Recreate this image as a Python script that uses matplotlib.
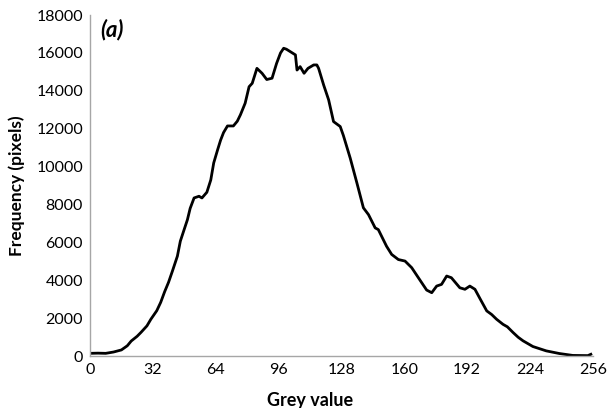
import matplotlib
matplotlib.use("Agg")
import matplotlib.pyplot as plt

grey_value = [0, 4, 8, 12, 16, 19, 21, 24, 26, 29, 31, 34, 36, 38, 40, 42, 44.5, 46, 48, 49.6,
              51, 53, 55.5, 57, 59.5, 61.5, 63, 65, 66.5, 68, 70, 73, 75, 76.6, 79, 81, 82.6,
              85, 87.6, 90, 92.7, 95, 97, 98.6, 100, 102, 104.6, 105.4, 107, 109, 111, 113.9,
              115.5, 116.4, 119, 121.5, 124, 127.4, 129, 132.5, 135.9, 139.2, 141.8, 145.2,
              146.8, 151, 153.6, 157, 160.4, 163.8, 167.2, 171.4, 174, 176.5, 179, 181.6, 184,
              188.3, 190.9, 193.4, 196, 198.5, 202, 204.5, 207, 210.3, 212.5, 215.4, 218,
              220.5, 225.5, 232.3, 239, 245.8, 253.5, 255]
frequency = [150, 160, 150, 220, 330, 550, 800, 1050, 1260, 1600, 1950, 2400, 2840, 3400, 3900,
             4500, 5280, 6070, 6700, 7200, 7800, 8350, 8440, 8350, 8650, 9300, 10200, 10900,
             11400, 11800, 12150, 12150, 12400, 12740, 13350, 14220, 14400, 15190, 14930, 14600,
             14670, 15450, 16000, 16250, 16200, 16070, 15900, 15100, 15280, 14930, 15190, 15370,
             15370, 15190, 14300, 13530, 12380, 12120, 11650, 10450, 9140, 7830, 7470, 6770,
             6680, 5800, 5370, 5100, 5020, 4670, 4140, 3490, 3350, 3700, 3790, 4230, 4140, 3610,
             3530, 3700, 3530, 3050, 2390, 2200, 1950, 1680, 1550, 1250, 1000,
             810, 510, 280, 140, 40, 30, 100]
x_ticks = [0, 32, 64, 96, 128, 160, 192, 224, 256]
y_ticks = list(range(0, 18001, 2000))

plt.rcParams['font.family'] = ['Lato', 'DejaVu Sans']

fig = plt.figure(figsize=(6.08, 4.08), dpi=100)
ax = fig.add_axes([0.148, 0.127, 0.827, 0.836])
ax.plot(grey_value, frequency, color='black', lw=2.0, solid_joinstyle='round')
ax.set_xlim(0, 256)
ax.set_ylim(0, 18000)
ax.set_xticks(x_ticks)
ax.set_yticks(y_ticks)
ax.tick_params(length=0, labelsize=11.5, pad=5)
for s in ['top', 'right']:
    ax.spines[s].set_visible(False)
for s in ['left', 'bottom']:
    ax.spines[s].set_color('#a6a6a6')
    ax.spines[s].set_linewidth(1.0)
ax.set_ylabel('Frequency (pixels)', fontsize=12.5, fontweight='bold', labelpad=8)
ax.set_xlabel('Grey value', fontsize=13, fontweight='bold', labelpad=2)
ax.xaxis.set_label_coords(0.437, -0.105)
ax.text(0.02, 0.99, '(a)', transform=ax.transAxes, fontsize=16, fontweight='bold',
        fontstyle='italic', va='top', ha='left')
fig.savefig('out.png', dpi=100)
